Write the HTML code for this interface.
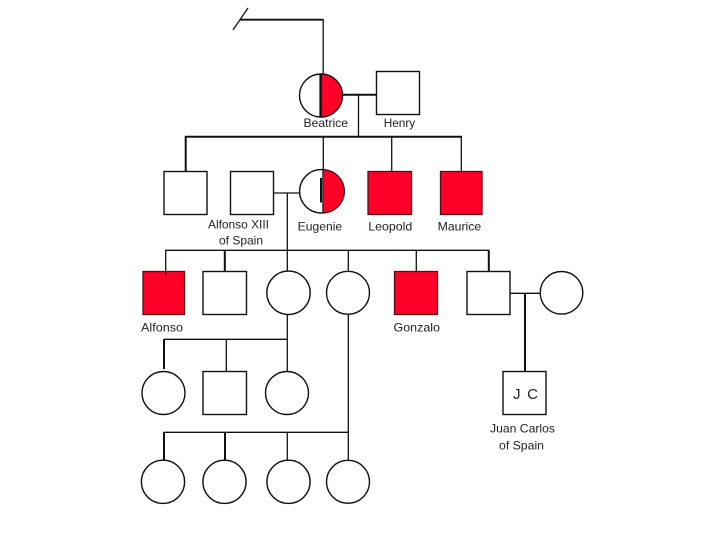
<!DOCTYPE html>
<html>
<head>
<meta charset="utf-8">
<style>
html,body{margin:0;padding:0;background:#fff;width:720px;height:540px;overflow:hidden}
svg{display:block}
text{font-family:"Liberation Sans",sans-serif;font-size:12px;fill:#222;lengthAdjust:spacingAndGlyphs}
</style>
</head>
<body>
<svg width="720" height="540" viewBox="0 0 720 540" xmlns="http://www.w3.org/2000/svg">
<g fill="none" stroke="#111" stroke-width="1.3">
  <!-- top -->
  <path d="M233 30L248 8"/>
  <path d="M240 19.7H323" stroke-width="1.8"/>
  <path d="M323.2 19V74"/>
  <path d="M343 94.8H376" stroke-width="2"/>
  <path d="M358.5 95V136"/>
  <path d="M185 136.7H462" stroke-width="2"/>
  <path d="M185.7 136V171" stroke-width="2"/>
  <path d="M323.3 136V170"/>
  <path d="M391.7 136V171"/>
  <path d="M461.3 136V171"/>
  <!-- Alfonso/Eugenie -->
  <path d="M274 193H299"/>
  <path d="M287.3 193V271"/>
  <path d="M165 250.3H489"/>
  <path d="M165.7 250V277"/>
  <path d="M224.8 250V271" stroke-width="2"/>
  <path d="M348.3 250V271"/>
  <path d="M416.3 250V271"/>
  <path d="M488.8 250V271" stroke-width="2"/>
  <!-- JC parents -->
  <path d="M510 293.3H540"/>
  <path d="M525 293V371" stroke-width="2"/>
  <!-- row 4 -->
  <path d="M287.3 314V371"/>
  <path d="M164 339.3H287"/>
  <path d="M164 339V369" stroke-width="2"/>
  <path d="M226.3 339V371"/>
  <path d="M348.3 314V460"/>
  <!-- row 5 -->
  <path d="M163.5 432.3H348"/>
  <path d="M164 432V460" stroke-width="2"/>
  <path d="M225 432V460" stroke-width="2"/>
  <path d="M287.3 432V460"/>
</g>

<!-- half-filled circles -->
<circle cx="321" cy="95.5" r="21.5" fill="#fff" stroke="#111" stroke-width="1.4"/>
<path d="M321 74A21.5 21.5 0 0 1 321 117Z" fill="#ff0028" stroke="#111" stroke-width="1.2"/>
<path d="M320.6 74V117" stroke="#111" stroke-width="2.4"/>
<circle cx="321.3" cy="191.3" r="21.7" fill="#fff" stroke="#111" stroke-width="1.4"/>
<path d="M322.8 169.6A21.7 21.7 0 0 1 322.8 213Z" fill="#ff0028" stroke="#111" stroke-width="1"/>
<path d="M321 178V202.5" stroke="#111" stroke-width="2"/>

<!-- squares -->
<g fill="#fff" stroke="#111" stroke-width="1.4">
  <rect x="376.5" y="71.5" width="43" height="43"/>
  <rect x="164" y="171.5" width="43" height="43"/>
  <rect x="230.5" y="171.5" width="43" height="43"/>
  <rect x="203" y="271.5" width="43.5" height="43"/>
  <rect x="467" y="271.5" width="43" height="43"/>
  <rect x="203" y="371.5" width="43.5" height="43"/>
  <rect x="503" y="371.5" width="43" height="43"/>
</g>
<g fill="#ff0028" stroke="#5a0a14" stroke-width="1.3">
  <rect x="368" y="171.5" width="43.5" height="43"/>
  <rect x="440.5" y="171.5" width="41.5" height="43"/>
  <rect x="143" y="271.5" width="41.5" height="43"/>
  <rect x="394.5" y="271.5" width="43" height="43"/>
</g>
<path d="M165.7 271V277" stroke="#111" stroke-width="1.2"/>

<!-- circles -->
<g fill="#fff" stroke="#111" stroke-width="1.4">
  <circle cx="288.5" cy="292.8" r="21.7"/>
  <circle cx="348" cy="292.8" r="21.5"/>
  <circle cx="561.5" cy="292.8" r="21.3"/>
  <circle cx="163.5" cy="393" r="21.5"/>
  <circle cx="287" cy="393" r="21.5"/>
  <circle cx="163" cy="481.8" r="21.6"/>
  <circle cx="224.5" cy="481.8" r="21.6"/>
  <circle cx="288.5" cy="481.8" r="21.6"/>
  <circle cx="348" cy="481.8" r="21.5"/>
</g>

<!-- labels -->
<text x="303.5" y="127" textLength="44.5" lengthAdjust="spacingAndGlyphs">Beatrice</text>
<text x="383.7" y="127" textLength="31.5" lengthAdjust="spacingAndGlyphs">Henry</text>
<text x="208" y="228.7" textLength="61" lengthAdjust="spacingAndGlyphs">Alfonso XIII</text>
<text x="219" y="244.3" textLength="44" lengthAdjust="spacingAndGlyphs">of Spain</text>
<text x="297.7" y="230.3" textLength="44.5" lengthAdjust="spacingAndGlyphs">Eugenie</text>
<text x="368.3" y="230.3" textLength="44" lengthAdjust="spacingAndGlyphs">Leopold</text>
<text x="437.7" y="230.3" textLength="43.5" lengthAdjust="spacingAndGlyphs">Maurice</text>
<text x="141" y="331.5" textLength="42" lengthAdjust="spacingAndGlyphs">Alfonso</text>
<text x="393.5" y="331.5" textLength="46.5" lengthAdjust="spacingAndGlyphs">Gonzalo</text>
<text x="513" y="399" style="font-size:15px" textLength="25" lengthAdjust="spacing">J C</text>
<text x="490" y="432.7" textLength="65" lengthAdjust="spacingAndGlyphs">Juan Carlos</text>
<text x="499" y="449.5" textLength="45" lengthAdjust="spacingAndGlyphs">of Spain</text>
</svg>
</body>
</html>
